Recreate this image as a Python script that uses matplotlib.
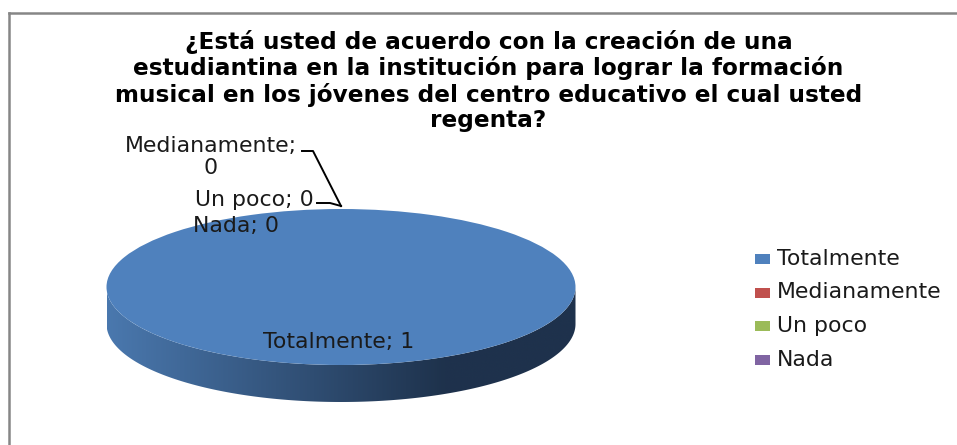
import numpy as np
import matplotlib
matplotlib.use('Agg')
import matplotlib.pyplot as plt
from matplotlib.patches import Polygon, Rectangle

W, H = 957, 445

title = ('¿Está usted de acuerdo con la creación de una\n'
         'estudiantina en la institución para lograr la formación\n'
         'musical en los jóvenes del centro educativo el cual usted\n'
         'regenta?')
categories = ['Totalmente', 'Medianamente', 'Un poco', 'Nada']
values = [1, 0, 0, 0]
colors = ['#4F81BD', '#C0504D', '#9BBB59', '#8064A2']

plt.rcParams['font.family'] = 'DejaVu Sans'
txt = '#1a1a1a'

fig = plt.figure(figsize=(W / 100, H / 100), dpi=100)

# overlay in pixel coords, for frame, title, labels, legend
bg = fig.add_axes([0, 0, 1, 1], zorder=3)
bg.set_xlim(0, W)
bg.set_ylim(H, 0)
bg.axis('off')
bg.patch.set_alpha(0)

# pie: top ellipse is 469 x 156 px, side band 37 px deep
rx, ry, depth = 234.5, 78, 37
left, top = 106.5, 209
ax = fig.add_axes([left / W, 1 - (top + 2 * ry + depth) / H,
                   2 * rx / W, (2 * ry + depth) / H], zorder=1)
d = depth / ry
ax.pie(values, colors=colors, startangle=90, radius=1,
       wedgeprops=dict(linewidth=0), normalize=True)

# side wall of the disc, gradient clipped to the band
t = np.linspace(np.pi, 2 * np.pi, 200)
band = np.vstack([np.column_stack([np.cos(t), np.sin(t) - d]),
                  np.column_stack([np.cos(t[::-1]), np.sin(t[::-1])])])
poly = Polygon(band, closed=True, fc='none', ec='none', transform=ax.transData)
ax.add_patch(poly)
grad = np.linspace(0, 1, 256)
c0 = np.array([0x4A, 0x78, 0xAE]) / 255
c1 = np.array([0x1E, 0x32, 0x4C]) / 255
ramp = np.clip(grad / 0.72, 0, 1)[:, None]
img = (c0 + (c1 - c0) * ramp)[None, :, :]
im = ax.imshow(img, extent=(-1, 1, -1 - d, 1), aspect='auto', zorder=0)
im.set_clip_path(poly)
ax.set_aspect('auto')
ax.set_xlim(-1, 1)
ax.set_ylim(-1 - d, 1)
ax.axis('off')

# chart frame: only left and top edges are in the crop
bg.plot([9, 9], [H, 13], color='#868686', lw=1.8)
bg.plot([9, W], [13, 13], color='#868686', lw=1.8)

bg.text(488.5, 81, title, ha='center', va='center', fontsize=16.7, fontweight='bold',
        color='black', linespacing=1.13)

# data labels
fs = 15.8
bg.text(339, 342, f'{categories[0]}; {values[0]}', ha='center', va='center', fontsize=fs, color=txt)
bg.text(211, 157, f'{categories[1]};\n{values[1]}', ha='center', va='center', fontsize=fs, color=txt,
        linespacing=1.08)
bg.text(254, 200, f'{categories[2]}; {values[2]}', ha='center', va='center', fontsize=fs, color=txt)
bg.text(236, 226, f'{categories[3]}; {values[3]}', ha='center', va='center', fontsize=fs, color=txt)

# leader lines
bg.plot([302, 313, 341], [151, 151, 206], color='black', lw=1.4)
bg.plot([317, 330, 341], [203, 203, 206], color='black', lw=1.4)

# legend
for i, (c, name) in enumerate(zip(colors, categories)):
    y = 259 + i * 33.5
    bg.add_patch(Rectangle((755, y - 5), 15, 10, fc=c, ec='none'))
    bg.text(777, y, name, ha='left', va='center', fontsize=fs, color=txt)

fig.savefig('out.png', dpi=100)
